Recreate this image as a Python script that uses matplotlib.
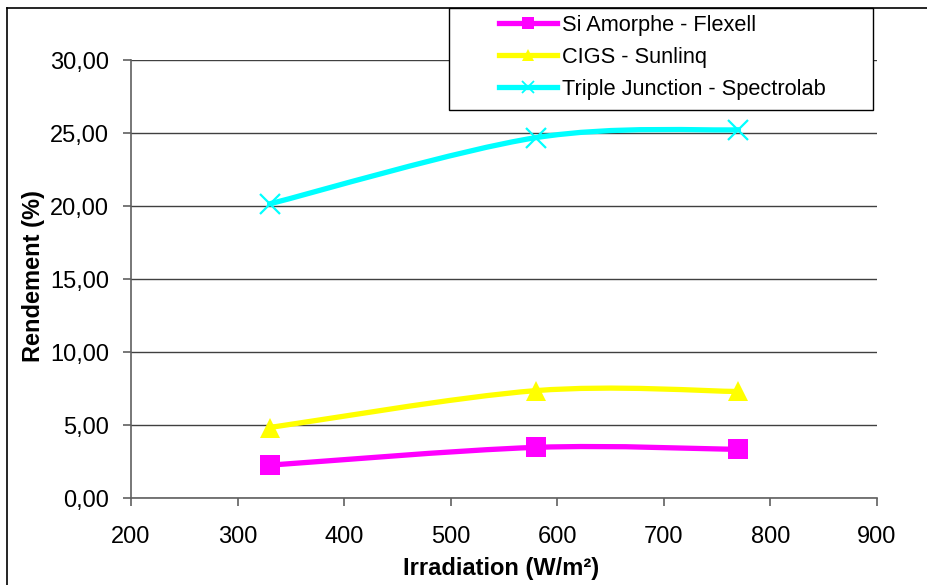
import matplotlib
matplotlib.use("Agg")
import matplotlib.pyplot as plt
from matplotlib.path import Path
from matplotlib.patches import PathPatch, Rectangle
from matplotlib.lines import Line2D
from matplotlib.ticker import FixedLocator, FuncFormatter

plt.rcParams['font.family'] = ['Liberation Sans', 'DejaVu Sans']

# ---- data ----
irradiation = [330, 580, 770]
si_amorphe = [2.25, 3.47, 3.33]
cigs = [4.83, 7.36, 7.30]
triple = [20.16, 24.70, 25.24]
series_labels = ["Si Amorphe - Flexell", "CIGS - Sunlinq", "Triple Junction - Spectrolab"]
series_colors = ["#FF00FF", "#FFFF00", "#00FFFF"]
series_markers = ["s", "^", "x"]
x_ticks = [200, 300, 400, 500, 600, 700, 800, 900]
y_ticks = [0, 5, 10, 15, 20, 25, 30]
x_label = "Irradiation (W/m²)"
y_label = "Rendement (%)"

W, H = 927, 585
fig = plt.figure(figsize=(W / 100, H / 100), dpi=100)
fig.patch.set_facecolor("white")

L, R, T, B = 131, 877, 60.3, 498
ax = fig.add_axes([L / W, 1 - B / H, (R - L) / W, (B - T) / H])
ax.set_xlim(200, 900)
ax.set_ylim(0, 30)


def smooth_path(xs, ys):
    pts = list(zip(xs, ys))
    n = len(pts)
    verts = [pts[0]]
    codes = [Path.MOVETO]
    for i in range(n - 1):
        p0 = pts[i - 1] if i > 0 else pts[i]
        p1 = pts[i]
        p2 = pts[i + 1]
        p3 = pts[i + 2] if i + 2 < n else pts[i + 1]
        c1 = (p1[0] + (p2[0] - p0[0]) / 6, p1[1] + (p2[1] - p0[1]) / 6)
        c2 = (p2[0] - (p3[0] - p1[0]) / 6, p2[1] - (p3[1] - p1[1]) / 6)
        verts += [c1, c2, p2]
        codes += [Path.CURVE4] * 3
    return Path(verts, codes)


handles = []
for ys, col, mk, lab in zip([si_amorphe, cigs, triple], series_colors, series_markers, series_labels):
    patch = PathPatch(smooth_path(irradiation, ys), fill=False, edgecolor=col,
                      lw=3.8, capstyle="round", joinstyle="round", zorder=3)
    ax.add_patch(patch)
    if mk == "x":
        ax.plot(irradiation, ys, linestyle="none", marker=mk, markersize=14,
                markeredgewidth=1.6, color=col, zorder=4)
        h = Line2D([], [], color=col, lw=3.8, marker=mk, markersize=8, markeredgewidth=1.3)
    else:
        ax.plot(irradiation, ys, linestyle="none", marker=mk, markersize=14 if mk == "s" else 15,
                markeredgewidth=0, color=col, zorder=4)
        h = Line2D([], [], color=col, lw=3.8, marker=mk, markersize=8, markeredgewidth=0)
    handles.append(h)

# axes styling
ax.xaxis.set_major_locator(FixedLocator(x_ticks))
ax.yaxis.set_major_locator(FixedLocator(y_ticks))
ax.yaxis.set_major_formatter(FuncFormatter(lambda v, p: f"{v:.2f}".replace(".", ",")))
ax.grid(axis="y", color="#404040", lw=1.0)
ax.set_axisbelow(True)
for s in ["top", "right"]:
    ax.spines[s].set_visible(False)
for s in ["left", "bottom"]:
    ax.spines[s].set_color("#606060")
    ax.spines[s].set_linewidth(1.2)
ax.tick_params(axis="both", direction="out", length=6, width=1.2, color="#606060",
               labelsize=17, labelcolor="black")
ax.tick_params(axis="y", pad=10)
ax.tick_params(axis="x", pad=14)

ax.set_xlabel(x_label, fontsize=17, fontweight="bold")
ax.set_ylabel(y_label, fontsize=17, fontweight="bold")
ax.xaxis.set_label_coords((501 - L) / (R - L), (B - 557) / (B - T))
ax.yaxis.set_label_coords((45 - L) / (R - L), (B - 276) / (B - T))

# outer chart frame (left and top visible)
fig.add_artist(Line2D([7 / W, 7 / W], [1 - 8 / H, -0.01], transform=fig.transFigure,
                      color="black", lw=1.2))
fig.add_artist(Line2D([7 / W, 1.01], [1 - 8 / H, 1 - 8 / H], transform=fig.transFigure,
                      color="black", lw=1.2))

# legend box
box = Rectangle((449 / W, 1 - 110 / H), (873 - 449) / W, (110 - 8) / H,
                transform=fig.transFigure, facecolor="white", edgecolor="black",
                lw=1.0, zorder=3)
fig.patches.append(box)
leg = fig.legend(handles, series_labels, loc="upper left",
                 bbox_to_anchor=(499 / W, 1 - 15 / H), frameon=False,
                 borderpad=0, borderaxespad=0, handlelength=2.65, handletextpad=0.25,
                 labelspacing=0.5, fontsize=15.7, numpoints=1)
leg.set_zorder(5)

fig.savefig("out.png", dpi=100, facecolor="white")
